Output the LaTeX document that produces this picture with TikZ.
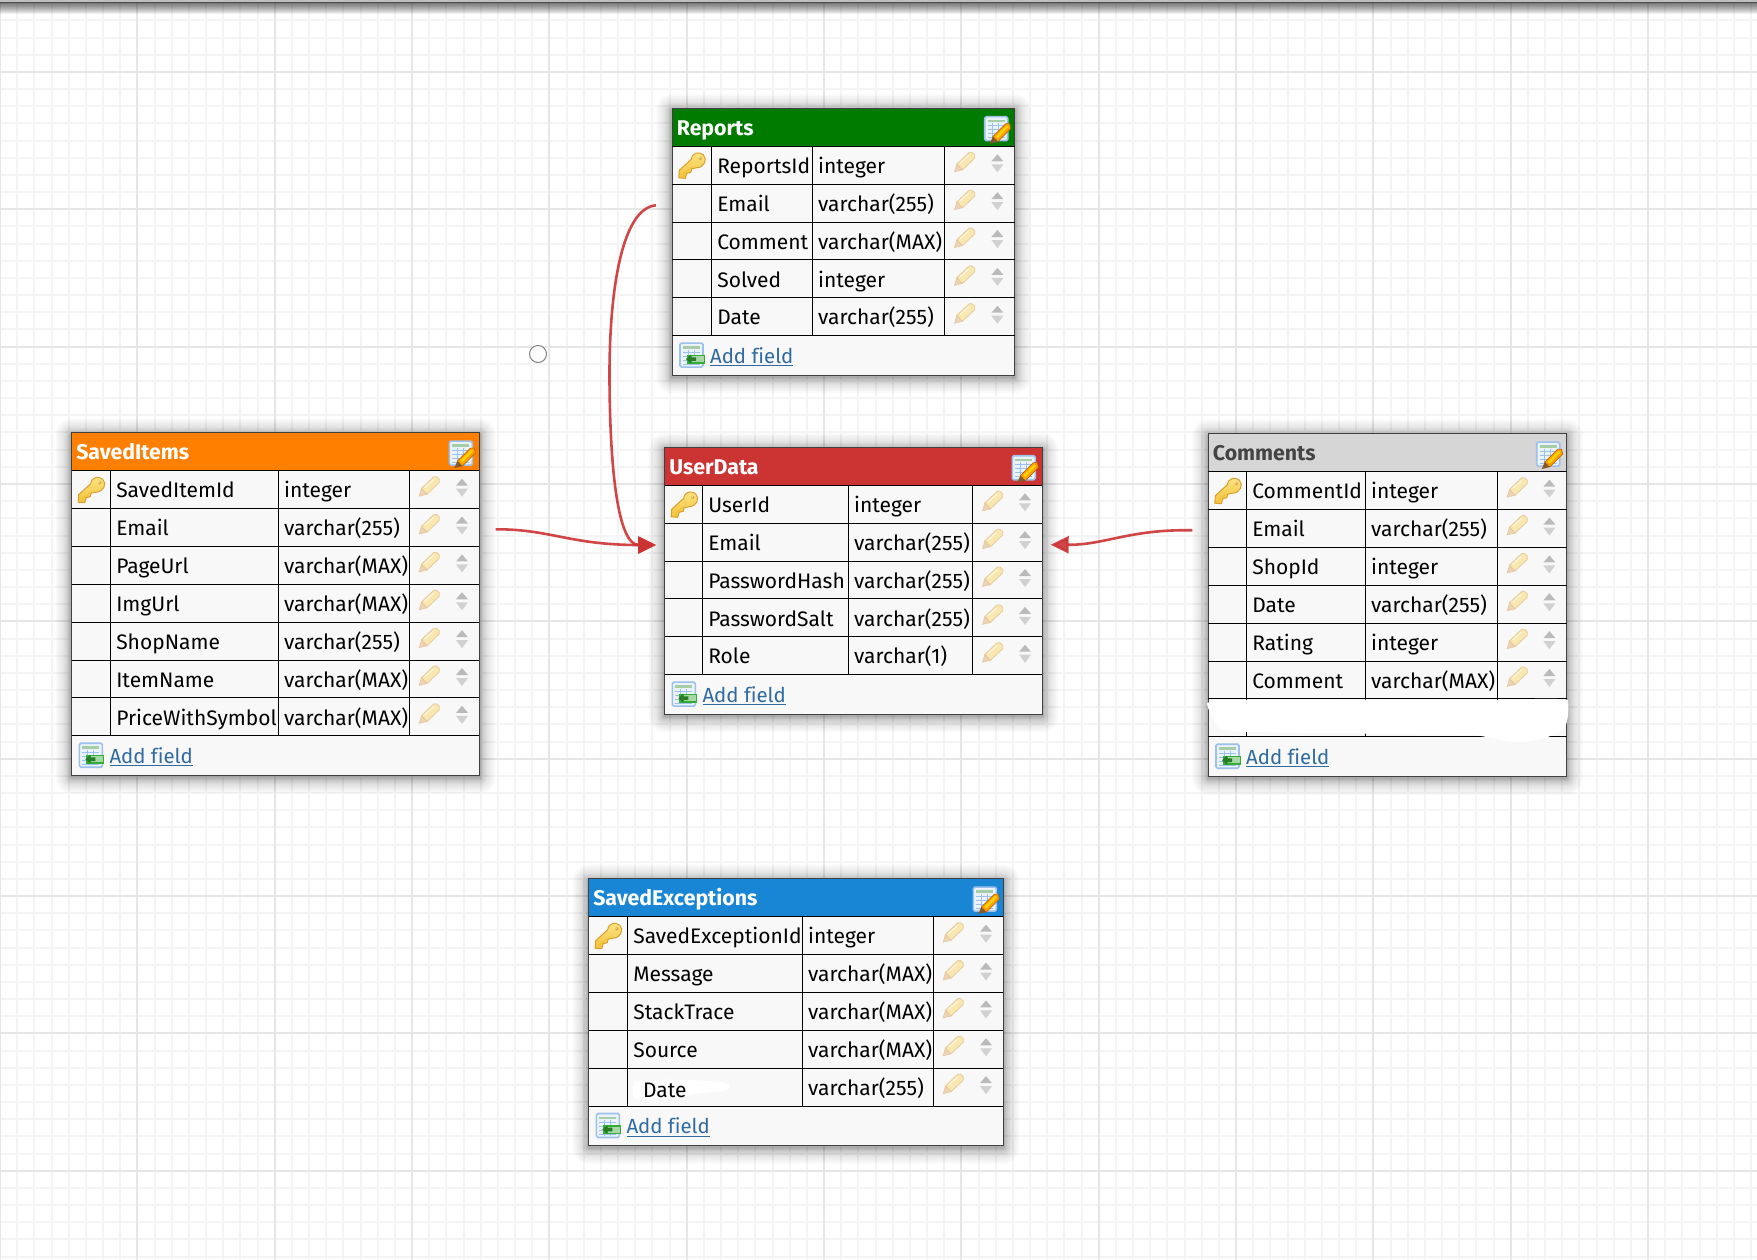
\documentclass[tikz,border=0pt]{standalone}
\usepackage{fontspec}
\setmainfont[Ligatures=NoCommon]{Fira Sans}
\usetikzlibrary{arrows.meta}
\definecolor{cellbg}{HTML}{F8F8F8}
\definecolor{gridminor}{HTML}{F4F4F4}
\definecolor{gridmajor}{HTML}{E6E6E6}
\definecolor{linkblue}{HTML}{2F6AA0}
\definecolor{linkred}{HTML}{CC3333}
\definecolor{hgreen}{HTML}{007B00}
\definecolor{horange}{HTML}{FF8000}
\definecolor{hred}{HTML}{CC3333}
\definecolor{hblue}{HTML}{1985D5}
\definecolor{hgray}{HTML}{D6D6D6}
\definecolor{htext}{HTML}{444444}
\definecolor{pbody}{HTML}{F8E6A6}
\definecolor{pedge}{HTML}{E6C69A}
\definecolor{ptip}{HTML}{EBCFB0}
\definecolor{iconedge}{HTML}{9DC0EC}
\definecolor{iconfill}{HTML}{EAF2FC}
\definecolor{keytop}{HTML}{FBE585}
\definecolor{keybot}{HTML}{F4C23A}
\definecolor{keyedge}{HTML}{D9A030}
\tikzset{
  fieldtext/.style={anchor=base west,inner sep=0pt,outer sep=0pt,font=\fontsize{21}{24}\selectfont,text=black},
  titletext/.style={anchor=base west,inner sep=0pt,outer sep=0pt,font=\fontsize{21.3}{24}\selectfont\bfseries},
  addtext/.style={anchor=base west,inner sep=0pt,outer sep=0pt,font=\fontsize{20.4}{24}\selectfont,text=linkblue},
  tablebody/.style={draw=black!75,line width=1.2pt,fill=cellbg,anchor=north west,inner sep=0pt,outer sep=0pt},
  tablehead/.style={anchor=north west,inner sep=0pt,outer sep=0pt},
  cellline/.style={draw=black,line width=1pt},
  relation/.style={draw=linkred,line width=2.6pt,opacity=.9,-{Triangle[length=18pt,width=17pt]}},
}
% pencil in a 21x20 box
\newcommand{\paleppencil}[2]{%
  \begin{scope}[shift={(#1,#2)},opacity=.9]
    \fill[pbody,draw=pedge,line width=.8pt] (5.6,14.7) -- (2.8,11.8) -- (15.1,.1) -- (17.9,0) -- (20.7,2.5) -- (20.7,5.9) -- (8.4,17.6) -- cycle;
    \fill[ptip,draw=pedge,line width=.6pt] (.5,19.5) -- (2.8,11.8) -- (8.4,17.6) -- cycle;
    \draw[white,line width=1pt,opacity=.7] (6,11) -- (15,3);
  \end{scope}}
\newcommand{\goldkey}[2]{%
  \begin{scope}[shift={(#1,#2)}]
    \shade[top color=keytop,bottom color=keybot,draw=keyedge,line width=1pt]
      (13,7) -- (1,18) -- (.5,25.5) -- (7,26) -- (8.5,21) -- (12.5,20) -- (13.5,16.5) -- (18,15.5)
      .. controls (26,15.5) and (29.5,7) .. (25,2.5) .. controls (21,-1) and (14,0) .. (13,7) -- cycle;
    \fill[keybot] (15,14) -- (5,23) -- (3.5,21.5) -- cycle;
    \fill[keyedge] (22,6) circle[radius=1.8];
    \fill[white,opacity=.6] (21.5,5.5) circle[radius=1];
  \end{scope}}
\newcommand{\sortarrows}[2]{%
  \fill[black!27] (#1,#2+8) -- (#1-6,#2+15) -- (#1+6,#2+15) -- cycle;
  \fill[black!18] (#1-6,#2+18) -- (#1+6,#2+18) -- (#1,#2+26) -- cycle;}
\newcommand{\gridicon}{%
  \fill[iconfill,draw=iconedge,line width=1.6pt,rounded corners=1.5pt] (0,0) rectangle (23,24);
  \fill[green!45!black!35] (3,3) rectangle (20,5.5);
  \draw[iconedge,line width=.7pt] (3,9) -- (20,9) (3,13) -- (20,13) (3,17) -- (20,17) (3,21) -- (20,21) (8,6.5) -- (8,22) (14,6.5) -- (14,22);}
\newcommand{\editicon}[2]{%
  \begin{scope}[shift={(#1,#2)}]
    \gridicon
    \fill[orange!75!yellow,draw=orange!70!black,line width=.5pt] (8,20) -- (21,7) -- (25,7) -- (26,12) -- (13,25) -- cycle;
    \fill[yellow!70!orange] (11,19.5) -- (22,8.5) -- (24,10) -- (13,21.5) -- cycle;
    \fill[brown!70!black] (5,27) -- (8,20) -- (13,25) -- cycle;
  \end{scope}}
\newcommand{\addicon}[2]{%
  \begin{scope}[shift={(#1,#2)}]
    \gridicon
    \fill[green!60!black!80] (7,11.5) rectangle (25,20.5);
    \fill[green!55!black!35] (12,13) rectangle (24,19);
    \fill[green!40!black!85] (6,16) -- (11,11.5) -- (11,14.2) -- (16,14.2) -- (16,17.8) -- (11,17.8) -- (11,20.5) -- cycle;
  \end{scope}}
\def\parsecols#1,#2,#3,#4,#5\relax{\def\cA{#1}\def\cB{#2}\def\cC{#3}\def\cD{#4}\def\cE{#5}}
% id, cols, top, colour, title colour, title, rows
\newcommand{\dbtable}[7]{%
  \parsecols#2\relax
  \pgfmathsetmacro{\hbot}{#3+38}%
  \foreach \nm/\ty [count=\i] in {#7}{\global\let\nrows\i}%
  \pgfmathsetmacro{\fbot}{\hbot+37.86*\nrows}%
  \pgfmathsetmacro{\tbot}{\fbot+39.6}%
  \pgfmathsetmacro{\tw}{\cE-\cA}%
  \pgfmathsetmacro{\th}{\tbot-#3}%
  \foreach \s in {1,1,2,2,3,3,4,5,6,7,8,10,12,14,16}{%
    \fill[black,opacity=.024,rounded corners=\s pt] (\cA-\s,#3-\s+2) rectangle (\cE+\s,\tbot+\s+2);}%
  \node[tablebody,minimum width=\tw pt,minimum height=\th pt] (#1) at (\cA,#3) {};
  \node[tablehead,fill=#4,minimum width=\tw pt,minimum height=38pt] (#1-head) at (\cA,#3) {};
  \draw[black!75,line width=1.2pt] (#1.north west) rectangle (#1.south east);
  \draw[cellline] (\cA,\hbot) -- (\cE,\hbot);
  \foreach \nm/\ty [count=\i] in {#7}{%
    \pgfmathsetmacro{\ry}{\hbot+37.86*(\i-1)}%
    \pgfmathsetmacro{\rb}{\ry+37.86}%
    \draw[cellline] (\cA,\rb) -- (\cE,\rb);
    \pgfmathsetmacro{\by}{\ry+27.2}%
    \pgfmathsetmacro{\px}{\cD+9.3}%
    \pgfmathsetmacro{\py}{\ry+6}%
    \pgfmathsetmacro{\ax}{\cE-17.3}%
    \node[fieldtext] (#1-n\i) at (\cB+5.6,\by) {\nm};
    \node[fieldtext] (#1-t\i) at (\cC+5.8,\by) {\ty};
    \paleppencil{\px}{\py}
    \sortarrows{\ax}{\ry}
  }
  \foreach \cx in {\cB,\cC,\cD}{\draw[cellline] (\cx,\hbot) -- (\cx,\fbot);}
  \pgfmathsetmacro{\kx}{\cA+6}\pgfmathsetmacro{\ky}{\hbot+6}%
  \goldkey{\kx}{\ky}
  \pgfmathsetmacro{\ex}{\cE-30}\pgfmathsetmacro{\ey}{#3+8.4}%
  \editicon{\ex}{\ey}
  \node[titletext,text=#5] (#1-title) at (\cA+4.6,#3+27) {#6};
  \pgfmathsetmacro{\ix}{\cA+7.7}\pgfmathsetmacro{\iy}{\fbot+7.5}%
  \addicon{\ix}{\iy}
  \node[addtext] (#1-add) at (\cA+37.8,\fbot+27.5) {Add field};
  \draw[linkblue,line width=1.1pt] ([yshift=-2.6pt]#1-add.base west) -- ([yshift=-2.6pt]#1-add.base east);
}
\begin{document}
\begin{tikzpicture}[x=1pt,y=-1pt]
\useasboundingbox (0,0) rectangle (1757,1260);
\fill[white] (0,0) rectangle (1757,1260);
% grid
\foreach \k in {0,...,103}{\draw[gridminor,line width=2pt] (\k*17.1667,0) -- (\k*17.1667,1260);}
\foreach \k in {0,...,73}{\draw[gridminor,line width=2pt] (0,3.33+\k*17.1667) -- (1757,3.33+\k*17.1667);}
\foreach \k in {0,...,12}{\draw[gridmajor,line width=2pt] (\k*137.333,0) -- (\k*137.333,1260);}
\foreach \k in {0,...,8}{\draw[gridmajor,line width=2pt] (0,72+\k*137.333) -- (1757,72+\k*137.333);}
% top edge of the window
\fill[black!25] (0,0) rectangle (1757,2);
\foreach \s in {3,4,5,6,7,8,9,10,11,12,13,14}{\fill[black,opacity=.06] (0,2) rectangle (1757,\s);}
\fill[black!70] (0,1.8) rectangle (1757,3.2);
% tables
\dbtable{reports}{672.3,711.7,812.3,944.7,1014.7}{108.3}{hgreen}{white}{Reports}
  {ReportsId/integer,Email/varchar(255),Comment/varchar(MAX),Solved/integer,Date/varchar(255)}
\dbtable{saveditems}{71.7,110.7,278.3,409.3,479.3}{432.7}{horange}{white}{SavedItems}
  {SavedItemId/integer,Email/varchar(255),PageUrl/varchar(MAX),ImgUrl/varchar(MAX),ShopName/varchar(255),ItemName/varchar(MAX),PriceWithSymbol/varchar(MAX)}
\dbtable{userdata}{664.7,702.7,848.3,972.7,1042.3}{447.3}{hred}{white}{UserData}
  {UserId/integer,Email/varchar(255),PasswordHash/varchar(255),PasswordSalt/varchar(255),Role/varchar(1)}
\dbtable{comments}{1208.3,1246.7,1365.3,1497.3,1566.7}{433.7}{hgray}{htext}{Comments}
  {CommentId/integer,Email/varchar(255),ShopId/integer,Date/varchar(255),Rating/integer,Comment/varchar(MAX),/}
\dbtable{savedexc}{588.7,627.7,802.3,933.3,1003.3}{878.7}{hblue}{white}{SavedExceptions}
  {SavedExceptionId/integer,Message/varchar(MAX),StackTrace/varchar(MAX),Source/varchar(MAX),/varchar(255)}
% white retouching
\fill[white] (1207,703) .. controls (1215,699) and (1240,700) .. (1300,700) .. controls (1400,699) and (1480,701) .. (1500,700)
  .. controls (1530,699) and (1560,698) .. (1568,700) .. controls (1569,710) and (1568,725) .. (1563,730)
  .. controls (1550,738) and (1530,743) .. (1510,741.7) .. controls (1490,738) and (1480,735) .. (1470,735)
  .. controls (1420,734) and (1300,733) .. (1247,732) .. controls (1235,731) and (1222,730) .. (1217,727)
  .. controls (1214,718) and (1208,712) .. (1207,703) -- cycle;
\fill[white] (634,1082) .. controls (650,1078) and (700,1080) .. (722,1082) .. controls (732,1084) and (732,1090) .. (722,1091)
  .. controls (700,1094) and (685,1094) .. (680,1098) .. controls (670,1101) and (640,1101) .. (634,1098)
  .. controls (632,1092) and (632,1086) .. (634,1082) -- cycle;
\node[fieldtext] (savedexc-date) at (643,1097) {Date};
% free ends of the relations
\coordinate (fromreports) at (656,205.3);
\coordinate (fromsaved) at (495.7,529.3);
\coordinate (fromcomments) at (1192.3,530.3);
\coordinate (intoleft) at (656,545);
\coordinate (intoright) at (1050.7,544.7);
\coordinate (bend) at (609.5,380);
\path[relation] (fromreports) .. controls (622,208) and (609,290) .. (bend) .. controls (610,470) and (618,545) .. (intoleft);
\path[relation] (fromsaved) .. controls (550,529) and (570,545) .. (intoleft);
\path[relation] (fromcomments) .. controls (1130,529) and (1105,545) .. (intoright);
% stray handle
\node[circle,draw=black!50,fill=white,line width=1pt,minimum size=17pt,inner sep=0pt] (handle) at (538,354) {};
\end{tikzpicture}
\end{document}
